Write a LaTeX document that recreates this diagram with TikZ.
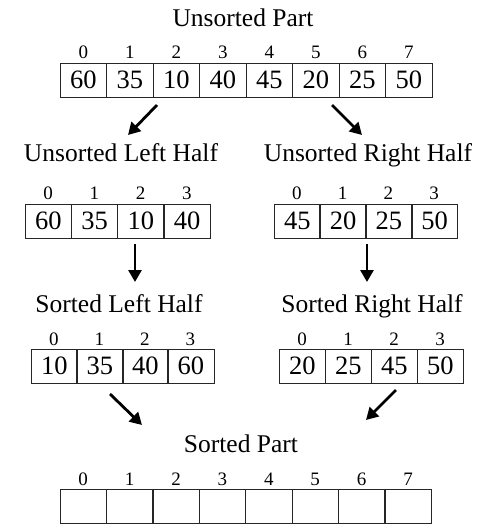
\documentclass[tikz,border=0pt]{standalone}
\usepackage{fontspec}
\setmainfont{Liberation Serif}
\usetikzlibrary{arrows.meta}
\begin{document}
\begin{tikzpicture}[x=1pt,y=-1pt,
  cell/.style={draw=black!85, line width=0.8pt, minimum width=46.5pt, minimum height=34pt,
    inner sep=0pt, outer sep=0pt, font=\fontsize{26.5}{27}\selectfont, anchor=north west},
  idx/.style={font=\fontsize{19}{19}\selectfont, inner sep=0pt, anchor=base},
  ttl/.style={font=\fontsize{25.5}{26}\selectfont, inner sep=0pt, anchor=base},
  arr/.style={-{Triangle[length=12pt,width=13pt]}, line width=2.8pt}]
\useasboundingbox (0,0) rectangle (493,525);
% top array
\node[ttl] (tTitle) at (243,26) {Unsorted Part};
\foreach \v [count=\i from 0] in {60,35,10,40,45,20,25,50} {
  \node[cell] (t\i) at (60+\i*46.5,63) {\v};
  \node[idx] (ti\i) at (60+\i*46.5+23.25,58) {\i};
}
% unsorted halves
\node[ttl] (ulTitle) at (121,161) {Unsorted Left Half};
\node[ttl] (urTitle) at (368,161) {Unsorted Right Half};
\foreach \v [count=\i from 0] in {60,35,10,40} {
  \node[cell] (ul\i) at (25+\i*46.25,204) {\v};
  \node[idx] (uli\i) at (25+\i*46.25+23.1,199) {\i};
}
\foreach \v [count=\i from 0] in {45,20,25,50} {
  \node[cell] (ur\i) at (274+\i*45.75,204) {\v};
  \node[idx] (uri\i) at (274+\i*45.75+22.9,199) {\i};
}
% sorted halves
\node[ttl] (slTitle) at (119,312) {Sorted Left Half};
\node[ttl] (srTitle) at (372,312) {Sorted Right Half};
\foreach \v [count=\i from 0] in {10,35,40,60} {
  \node[cell] (sl\i) at (31+\i*45.5,349) {\v};
  \node[idx] (sli\i) at (31+\i*45.5+22.75,345) {\i};
}
\foreach \v [count=\i from 0] in {20,25,45,50} {
  \node[cell] (sr\i) at (279+\i*46,349) {\v};
  \node[idx] (sri\i) at (279+\i*46+23,345) {\i};
}
% sorted part
\node[ttl] (spTitle) at (241,452) {Sorted Part};
\foreach \i in {0,...,7} {
  \node[cell] (b\i) at (60+\i*46.4,489) {};
  \node[idx] (bi\i) at (60+\i*46.4+23.2,485) {\i};
}
% arrow end points
\coordinate (a1s) at (157,105); \coordinate (a1e) at (128,135);
\coordinate (a2s) at (332,105); \coordinate (a2e) at (362,135);
\coordinate (a3s) at (135,244); \coordinate (a3e) at (135,282);
\coordinate (a4s) at (367,244); \coordinate (a4e) at (367,282);
\coordinate (a5s) at (110,394); \coordinate (a5e) at (142,425);
\coordinate (a6s) at (396,390); \coordinate (a6e) at (366,420);
\foreach \k in {1,...,6} { \draw[arr] (a\k s) -- (a\k e); }
\end{tikzpicture}
\end{document}
